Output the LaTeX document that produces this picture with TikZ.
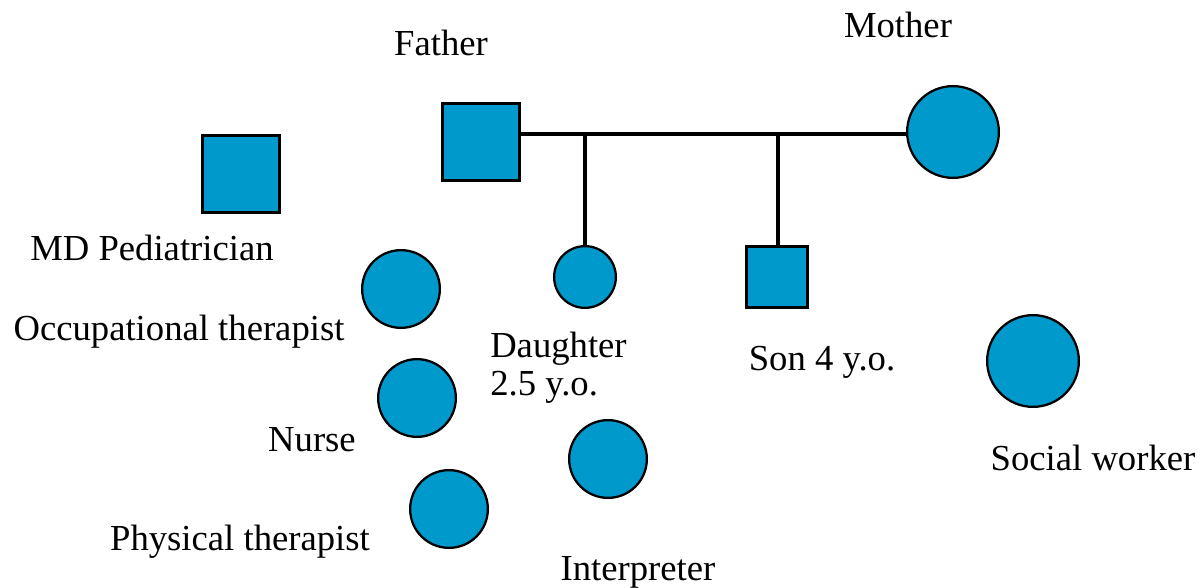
\documentclass[tikz,border=0pt]{standalone}
\usepackage{fontspec}
\setmainfont{Liberation Serif}
\definecolor{member}{HTML}{0099CC}
\tikzset{
  male/.style={draw, line width=2.4pt, fill=member, minimum size=#1*0.75pt-2.4pt, inner sep=0pt, outer sep=0pt},
  female/.style={draw, circle, line width=1.7pt, fill=member, minimum size=#1*0.75pt-1.7pt, inner sep=0pt, outer sep=0pt},
  tag/.style={anchor=base, inner sep=0pt, font=\fontsize{27.5}{28}\selectfont}
}
\begin{document}
\begin{tikzpicture}[x=0.75pt, y=-0.75pt]
            \useasboundingbox (0,0) rectangle (1200,588);
            % family
            \node[male=80] (father) at (481,142) {};
            \node[female=94] (mother) at (953,132) {};
            \node[female=64] (daughter) at (585,277) {};
            \node[male=64] (son) at (777,277) {};
            \coordinate (dline) at (585,134);
            \coordinate (sline) at (778,134);
            \draw[line width=2.4pt] (dline -| father.east) -- (dline -| mother.west);
            \draw[line width=2.4pt] (dline) -- (daughter.north);
            \draw[line width=2.4pt] (sline) -- (sline |- son.north);
            % team
            \node[male=80] (md) at (241,174) {};
            \node[female=80] (ot) at (401,289) {};
            \node[female=80] (nurse) at (417,398) {};
            \node[female=80] (pt) at (449,509) {};
            \node[female=80] (interp) at (608,459) {};
            \node[female=94] (social) at (1033,361) {};
            % labels
            \node[tag] (fatherlbl) at (441,56) {Father};
            \node[tag] (motherlbl) at (898,38) {Mother};
            \node[tag] (mdlbl) at (152,260) {MD Pediatrician};
            \node[tag] (otlbl) at (179,340) {Occupational therapist};
            \node[tag, anchor=base west, align=left] (daughterlbl) at (490,395) {Daughter\\2.5 y.o.};
            \node[tag] (sonlbl) at (822,370) {Son 4 y.o.};
            \node[tag] (nurselbl) at (312,451) {Nurse};
            \node[tag] (sociallbl) at (1093,470) {Social worker};
            \node[tag] (ptlbl) at (240,550) {Physical therapist};
            \node[tag] (interplbl) at (638,580) {Interpreter};
\end{tikzpicture}
\end{document}
